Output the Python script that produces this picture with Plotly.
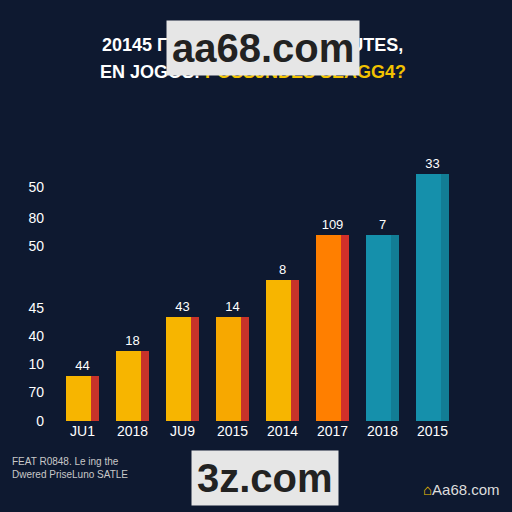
import plotly.graph_objects as go

categories = ["JU1", "2018", "JU9", "2015", "2014", "2017", "2018", "2015"]
values = [45, 70, 104, 104, 141, 186, 186, 247]
labels = ["44", "18", "43", "14", "8", "109", "7", "33"]
main_colors = ["#f7b500", "#f7b500", "#f7b500", "#f7a800", "#f7b500", "#ff7f00", "#1590ab", "#1590ab"]
side_colors = ["#c8332a", "#c8332a", "#c8332a", "#c8332a", "#c8332a", "#d2302a", "#127d95", "#127d95"]
tick_vals = [0, 29, 57, 85, 113, 175, 203, 234]
tick_text = ["0", "70", "10", "40", "45", "50", "80", "50"]

xs = list(range(len(categories)))
bg = "#0e1930"

fig = go.Figure()
fig.add_trace(go.Bar(x=xs, y=values, width=0.66, offset=-0.33,
                     marker=dict(color=main_colors, line_width=0),
                     text=labels, textposition="outside",
                     textfont=dict(color="white", size=13, family="Liberation Sans"),
                     cliponaxis=False))
fig.add_trace(go.Bar(x=xs, y=values, width=0.16, offset=0.17,
                     marker=dict(color=side_colors, line_width=0)))

fig.update_layout(
    width=512, height=512, barmode="overlay", showlegend=False,
    paper_bgcolor=bg, plot_bgcolor=bg,
    margin=dict(l=45, r=52, t=160, b=91),
    font=dict(family="Liberation Sans", color="white"),
    xaxis=dict(tickvals=xs, ticktext=categories, range=[-0.75, 7.55],
               showgrid=False, zeroline=False, tickfont=dict(size=14)),
    yaxis=dict(tickvals=tick_vals, ticktext=tick_text, range=[0, 261],
               showgrid=False, zeroline=False, tickfont=dict(size=14)),
)


def note(text, x, y, size, color="white", xanchor="center", **kw):
    fig.add_annotation(x=x, y=y, xref="paper", yref="paper", showarrow=False,
                       xanchor=xanchor, yanchor="middle", text=text,
                       font=dict(size=size, color=color), **kw)


note("<b>20145 ГЁ ИGЦЕ LOSЕИ ЕР ИUTES,</b>", 0.5, 1.44, 18)
note("<b>EN JOGOS: <span style='color:#f2c200'>POSSJNDES SEAGG4?</span></b>", 0.5, 1.337, 18)
# watermark boxes
note("<b>aa68.com</b>", 0.525, 1.43, 40, "#222222", bgcolor="#e6e6e6", borderpad=5)
note("<b>3z.com</b>", 0.53, -0.218, 40, "#222222", bgcolor="#e6e6e6", borderpad=5)
note("FEAT R0848. Le ing the<br>Dwered PriseLuno SATLE", -0.085, -0.18, 10, "#c8c8c8",
     xanchor="left", align="left")
note("<span style='color:#f2c200'>⌂</span>Aa68.com", 1.1, -0.264, 15, "#dddddd",
     xanchor="right")

fig.write_html("out.html", config={"displayModeBar": False},
               post_script="document.body.style.margin='0';")
